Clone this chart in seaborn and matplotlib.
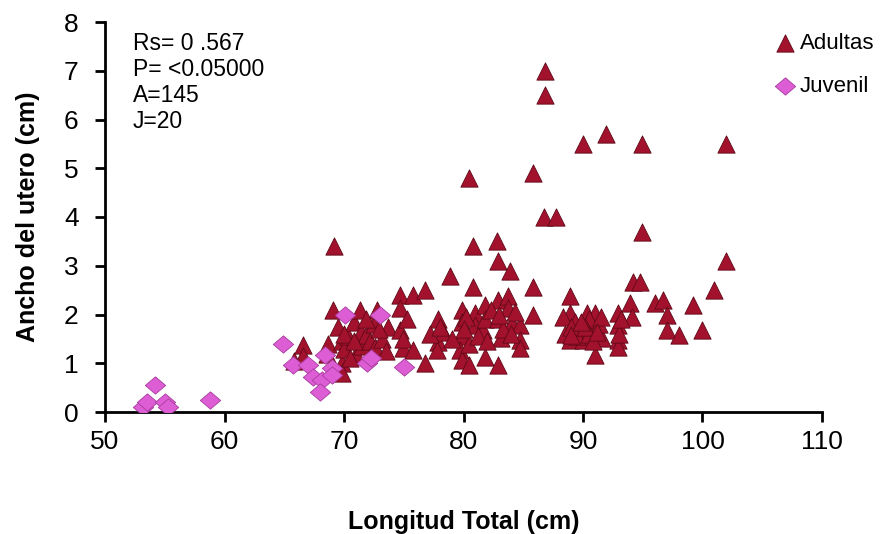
import numpy as np
import pandas as pd
import matplotlib
matplotlib.use("Agg")
import matplotlib.pyplot as plt
import seaborn as sns
from matplotlib.path import Path

sns.set_theme(style="white")
plt.rcParams['font.family'] = ['Liberation Sans', 'DejaVu Sans']
plt.rcParams['text.color'] = 'black'
plt.rcParams['axes.labelcolor'] = 'black'

# ---------------- data ----------------
adult_x = [86.8, 86.8, 85.8, 80.5, 86.7, 87.7, 90.0, 91.9, 94.9, 102.0, 94.9, 102.0, 69.2, 80.8, 82.8, 82.9, 83.9,
           65.8, 66.6, 66.6, 68.6, 68.7, 69.1, 69.5, 69.8, 69.8, 69.8, 70.0, 70.3, 70.8, 71.0, 71.3, 71.4, 71.5, 71.8,
           72.2, 72.5, 72.6, 72.8, 73.2, 73.7, 74.7, 74.7, 74.7, 74.9, 74.9, 70.5,
           75.8, 76.8, 75.8, 76.8, 77.9, 77.9, 77.8, 78.3, 78.9, 79.9, 79.9, 79.9, 79.7, 79.9, 80.5, 80.8, 81.0, 81.0,
           81.6, 81.8, 81.8, 81.8, 82.9, 82.9, 82.9, 83.1, 83.7, 83.7, 84.1, 84.7, 84.7, 84.7, 85.8, 85.8, 80.2, 82.3,
           83.3, 80.5, 77.2,
           94.2, 94.8, 88.9, 88.9, 88.3, 90.3, 91.0, 88.9, 88.9, 89.9, 90.8, 91.0, 91.6, 91.0, 90.0, 92.9, 92.9, 92.9,
           92.9, 93.9, 94.1, 96.0, 96.7, 97.0, 97.0, 98.0, 99.2, 100.0, 101.0, 89.3, 90.5, 91.3, 89.5, 90.5, 91.5, 88.5,
           89.0, 89.0, 90.2, 90.8, 91.2, 89.8, 93.0, 93.2,
           80.0, 81.2, 82.0, 83.0, 84.0, 84.3, 79.0, 78.0,
           70.0, 70.8, 71.8, 72.9, 73.5, 75.3]
adult_y = [7.0, 6.5, 4.9, 4.8, 4.0, 4.0, 5.5, 5.7, 5.5, 5.5, 3.7, 3.1, 3.4, 3.4, 3.5, 3.1, 2.9,
           1.05, 1.38, 1.15, 1.2, 1.4, 2.1, 1.75, 1.45, 1.0, 0.8, 1.3, 1.55, 1.85, 1.2, 2.1, 1.65, 1.35, 1.58,
           1.45, 1.8, 1.34, 2.1, 1.5, 1.75, 2.4, 2.14, 1.69, 1.32, 1.5, 1.1,
           2.4, 2.5, 1.28, 1.0, 1.9, 1.44, 1.28, 1.65, 2.8, 2.1, 1.85, 1.55, 1.28, 1.07, 0.97, 2.57, 2.03, 1.79,
           1.69, 2.2, 1.9, 1.13, 2.3, 1.9, 0.97, 1.52, 2.37, 2.14, 1.83, 1.79, 1.48, 1.32, 2.57, 2.0, 1.95, 2.1,
           1.7, 1.4, 1.6,
           2.67, 2.67, 2.37, 2.03, 1.95, 2.03, 2.03, 1.69, 1.48, 1.65, 1.75, 1.54, 1.52, 1.17, 1.48, 2.03, 1.79, 1.48,
           1.34, 2.24, 1.95, 2.24, 2.3, 2.0, 1.69, 1.58, 2.2, 1.69, 2.5, 1.85, 1.9, 1.8, 1.55, 1.6, 1.95, 1.6,
           1.75, 1.58, 1.75, 1.45, 1.65, 1.85, 1.6, 1.9,
           1.7, 1.55, 1.45, 2.0, 1.6, 2.05, 1.5, 1.75,
           1.6, 1.45, 1.9, 1.7, 1.25, 1.9]

juv_x = [53.2, 53.5, 54.2, 55.0, 55.3, 58.8, 64.9, 65.7, 67.0, 68.4, 67.4, 68.2, 68.0, 69.0, 69.0, 70.1, 73.0,
         71.9, 72.3, 75.0]
juv_y = [0.1, 0.2, 0.55, 0.2, 0.1, 0.25, 1.4, 0.97, 0.97, 1.17, 0.72, 0.66, 0.41, 0.9, 0.76, 2.0, 2.0,
         1.0, 1.1, 0.93]

annotations = ["Rs= 0 .567", "P= <0.05000", "A=145", "J=20"]
x_ticks = [50, 60, 70, 80, 90, 100, 110]
y_ticks = [0, 1, 2, 3, 4, 5, 6, 7, 8]

adults = pd.DataFrame({"x": adult_x, "y": adult_y})
juvs = pd.DataFrame({"x": juv_x, "y": juv_y})

# ---------------- figure ----------------
fig = plt.figure(figsize=(8.8, 5.34), dpi=100)
ax = fig.add_axes([105/880, 1-412/534, (822-105)/880, (412-22)/534])

diamond = Path([(-1, 0), (0, 0.85), (1, 0), (0, -0.85), (-1, 0)],
               [Path.MOVETO, Path.LINETO, Path.LINETO, Path.LINETO, Path.CLOSEPOLY])

sns.scatterplot(data=adults, x="x", y="y", ax=ax, marker="^", s=155,
                color="#A3122D", edgecolor="#5E0816", linewidth=0.6, label="Adultas", zorder=3)
sns.scatterplot(data=juvs, x="x", y="y", ax=ax, marker=diamond, s=215,
                color="#DD5ED4", edgecolor="#A83C9E", linewidth=0.6, label="Juvenil", zorder=4)

ax.set_xlim(50, 110)
ax.set_ylim(0, 8)
ax.set_xticks(x_ticks)
ax.set_yticks(y_ticks)
ax.tick_params(axis='both', labelsize=19, length=7, width=2, direction='out',
               color='black', labelcolor='black', bottom=True, left=True)
ax.tick_params(axis='y', pad=12)
ax.tick_params(axis='x', pad=6)
for s in ["top", "right"]:
    ax.spines[s].set_visible(False)
for s in ["left", "bottom"]:
    ax.spines[s].set_color("black")
    ax.spines[s].set_linewidth(2)

ax.set_xlabel("Longitud Total (cm)", fontsize=18, fontweight="bold", labelpad=40, color="black")
ax.set_ylabel("Ancho del utero (cm)", fontsize=18, fontweight="bold", labelpad=17, color="black")

for i, t in enumerate(annotations):
    ax.text(133/880, 1-(44 + 25.7*i)/534, t, transform=fig.transFigure,
            fontsize=16.5, va="center", ha="left", color="black")

leg = ax.legend(loc="upper left", bbox_to_anchor=(763/880, 1-24/534), bbox_transform=fig.transFigure,
                frameon=False, fontsize=16, handletextpad=0.05, labelspacing=1.0,
                borderaxespad=0, handlelength=1.2, markerscale=1.0, labelcolor="black")

fig.savefig("out.png", dpi=100)
